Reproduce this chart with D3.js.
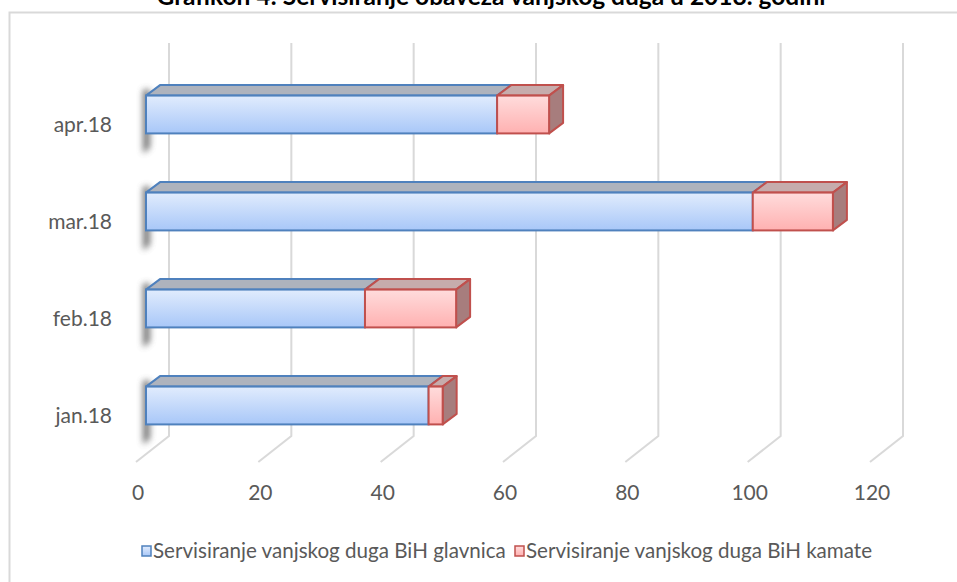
<!DOCTYPE html>
<html>
<head>
<meta charset="utf-8">
<script src="https://cdn.jsdelivr.net/npm/d3@7"></script>
<style>
  body { margin: 0; background: #fff; }
  svg { display: block; font-family: Lato, "Open Sans", sans-serif; }
</style>
</head>
<body>
<div id="chart"></div>
<script>
// data
var categories = ["jan.18", "feb.18", "mar.18", "apr.18"];
var glavnica = [46.2, 35.8, 99.2, 57.4];
var kamate = [2.3, 14.9, 13.1, 8.5];
var tickValues = [0, 20, 40, 60, 80, 100, 120];
var seriesNames = ["Servisiranje vanjskog duga BiH glavnica", "Servisiranje vanjskog duga BiH kamate"];
var title = "Grafikon 4: Servisiranje obaveza vanjskog duga u 2018. godini";

var width = 957, height = 582;

var svg = d3.select("#chart").append("svg")
    .attr("width", width)
    .attr("height", height);

var defs = svg.append("defs");

function grad(id, c1, c2) {
    var g = defs.append("linearGradient").attr("id", id)
        .attr("x1", 0).attr("y1", 0).attr("x2", 0).attr("y2", 1);
    g.append("stop").attr("offset", "0").attr("stop-color", c1);
    g.append("stop").attr("offset", "1").attr("stop-color", c2);
}
grad("gBlue", "#e1ecfd", "#a8c7f8");
grad("gRed", "#ffdcdc", "#ffb1b1");

defs.append("filter").attr("id", "blur")
    .attr("x", "-100%").attr("y", "-50%").attr("width", "300%").attr("height", "200%")
    .append("feGaussianBlur").attr("stdDeviation", 3);

// chart frame
svg.append("rect")
    .attr("x", 9.5).attr("y", 12.5)
    .attr("width", 1000).attr("height", 600)
    .attr("fill", "none")
    .attr("stroke", "#d9d9d9")
    .attr("stroke-width", 2);

// title (sits mostly above the top edge, as in the source)
svg.append("text")
    .attr("x", 491).attr("y", 5)
    .attr("text-anchor", "middle")
    .attr("font-weight", "bold")
    .attr("font-size", 24.5)
    .attr("fill", "#000")
    .text(title);

// scales
var x = d3.scaleLinear().domain([0, 120]).range([0, 734]);
var y = d3.scaleBand()
    .domain(categories.slice().reverse())
    .range([66, 454])
    .paddingInner(0.61)
    .paddingOuter(0.305);

var floorFront = 136, floorBack = 169;   // x of value 0
var wallTop = 43, wallBottom = 436, floorDrop = 26;
var barX = 146;                          // bar front plane
var dx = 14, dy = 10.5;                  // bar depth

// back wall gridlines + floor diagonals
var grid = svg.append("g").attr("stroke", "#d9d9d9").attr("stroke-width", 2).attr("fill", "none");
grid.selectAll("path")
    .data(tickValues)
    .enter()
    .append("path")
    .attr("d", function (d) {
        return "M" + (floorBack + x(d)) + "," + wallTop +
            "V" + wallBottom +
            "L" + (floorFront + x(d)) + "," + (wallBottom + floorDrop);
    });

// tick labels
svg.append("g").selectAll("text")
    .data(tickValues)
    .enter()
    .append("text")
    .attr("x", function (d) { return floorFront + 2 + x(d); })
    .attr("y", 500)
    .attr("text-anchor", "middle")
    .attr("font-size", 21)
    .attr("fill", "#595959")
    .text(function (d) { return d; });

// category labels
svg.append("g").selectAll("text")
    .data(categories)
    .enter()
    .append("text")
    .attr("x", 112)
    .attr("y", function (d) { return y(d) + y.bandwidth() / 2 + 17; })
    .attr("text-anchor", "end")
    .attr("font-size", 21)
    .attr("fill", "#595959")
    .text(function (d) { return d; });

// bars
var bars = svg.append("g").selectAll("g")
    .data(categories.map(function (c, i) {
        return { cat: c, a: glavnica[i], b: kamate[i] };
    }))
    .enter()
    .append("g");

// shadow at the left end of each bar
bars.append("path")
    .attr("d", function (d) {
        var Y = y(d.cat), H = y.bandwidth();
        return "M" + (barX - 3) + "," + (Y - 6) + "L" + (barX + 4) + "," + (Y - 6) +
            "L" + (barX + 4) + "," + (Y + H + 14) + "L" + (barX - 3) + "," + (Y + H + 20) + "Z";
    })
    .attr("fill", "#555")
    .attr("opacity", 0.8)
    .attr("filter", "url(#blur)");

bars.each(function (d) {
    var g = d3.select(this);
    var Y = y(d.cat), H = y.bandwidth();
    var segs = [
        { x0: 0, x1: d.a, fill: "url(#gBlue)", top: "#aeb3bd", side: "#8e97a8", stroke: "#4f81bd" },
        { x0: d.a, x1: d.a + d.b, fill: "url(#gRed)", top: "#c6acac", side: "#a77d7d", stroke: "#c0504d" }
    ];
    segs.forEach(function (s) {
        var X0 = barX + x(s.x0), X1 = barX + x(s.x1);
        g.append("path")
            .attr("d", "M" + X0 + "," + Y + "L" + X1 + "," + Y + "L" + (X1 + dx) + "," + (Y - dy) +
                "L" + (X0 + dx) + "," + (Y - dy) + "Z")
            .attr("fill", s.top)
            .attr("stroke", s.stroke)
            .attr("stroke-width", 2)
            .attr("stroke-linejoin", "round");
    });
    var last = segs[1];
    var XE = barX + x(last.x1);
    g.append("path")
        .attr("d", "M" + XE + "," + Y + "L" + (XE + dx) + "," + (Y - dy) + "L" + (XE + dx) + "," + (Y + H - dy) +
            "L" + XE + "," + (Y + H) + "Z")
        .attr("fill", last.side)
        .attr("stroke", last.stroke)
        .attr("stroke-width", 2)
        .attr("stroke-linejoin", "round");
    segs.forEach(function (s) {
        var X0 = barX + x(s.x0), X1 = barX + x(s.x1);
        g.append("rect")
            .attr("x", X0).attr("y", Y)
            .attr("width", X1 - X0).attr("height", H)
            .attr("fill", s.fill)
            .attr("stroke", s.stroke)
            .attr("stroke-width", 2);
    });
});

// legend
var legend = svg.append("g");
var legendX = [142, 515];
var legendFill = ["url(#gBlue)", "url(#gRed)"];
var legendStroke = ["#4f81bd", "#c0504d"];
seriesNames.forEach(function (name, i) {
    legend.append("rect")
        .attr("x", legendX[i]).attr("y", 546)
        .attr("width", 9).attr("height", 10)
        .attr("fill", legendFill[i])
        .attr("stroke", legendStroke[i])
        .attr("stroke-width", 1.5);
    legend.append("text")
        .attr("x", legendX[i] + 11).attr("y", 558)
        .attr("font-size", 20.6)
        .attr("fill", "#595959")
        .text(name);
});
</script>
</body>
</html>
